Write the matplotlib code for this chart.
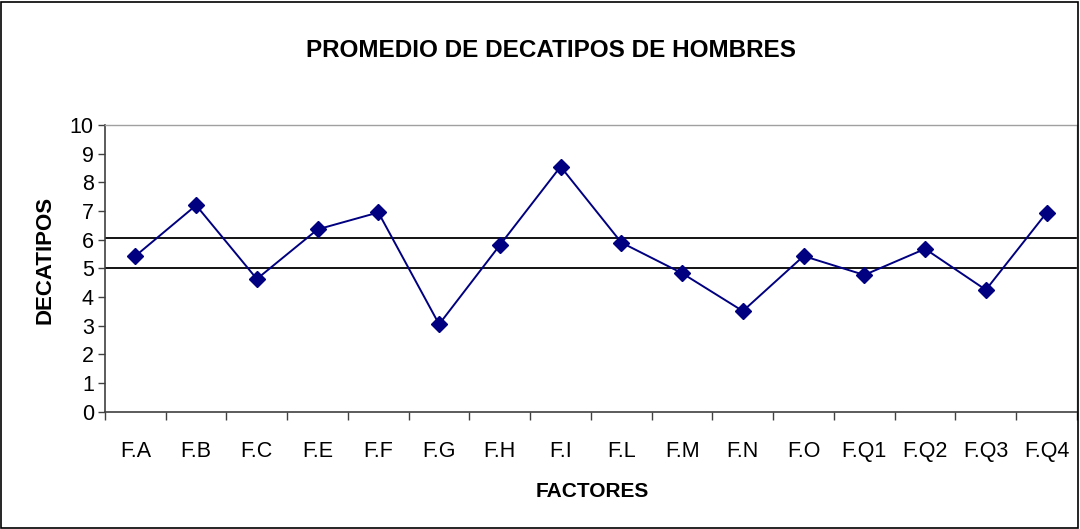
import matplotlib
matplotlib.use("Agg")
import matplotlib.pyplot as plt
from matplotlib.patches import Rectangle
import numpy as np

categories = ["F.A", "F.B", "F.C", "F.E", "F.F", "F.G", "F.H", "F.I",
              "F.L", "F.M", "F.N", "F.O", "F.Q1", "F.Q2", "F.Q3", "F.Q4"]
values = [5.43, 7.2, 4.63, 6.36, 6.95, 3.05, 5.81, 8.55,
          5.9, 4.83, 3.51, 5.43, 4.77, 5.68, 4.25, 6.94]
ref_lines = [6.05, 5.0]
y_ticks = list(range(0, 11))

plt.rcParams['font.family'] = ['Liberation Sans', 'DejaVu Sans']

fig = plt.figure(figsize=(10.8, 5.29), dpi=100)
fig.patches.append(Rectangle((0.001, 0.002), 0.997, 0.995, transform=fig.transFigure,
                             fill=False, edgecolor='black', linewidth=1.2))
ax = fig.add_axes([0.0972, 0.2217, 0.9, 0.542])

x = np.arange(len(categories))
for v in ref_lines:
    ax.axhline(v, color='black', linewidth=1.3, zorder=2)
ax.plot(x, values, color='#000080', linewidth=1.4, marker='D', markersize=8.5,
        markerfacecolor='#000080', markeredgecolor='#000080', zorder=3)

ax.set_xlim(-0.5, len(categories) - 0.5)
ax.set_ylim(0, 10)
ax.set_yticks(y_ticks)
ax.set_yticklabels([str(t) for t in y_ticks], fontsize=15.5)
ax.set_xticks(x)
ax.set_xticklabels(categories, fontsize=15.5)
ax.set_xticks(np.arange(-0.5, len(categories), 1), minor=True)
ax.tick_params(axis='x', which='major', length=0, pad=21)
ax.tick_params(axis='x', which='minor', length=6, width=1, color='#404040', direction='out')
ax.tick_params(axis='y', length=5, width=1, color='#404040', direction='out', pad=3)

for side in ['left', 'bottom']:
    ax.spines[side].set_color('#404040')
    ax.spines[side].set_linewidth(1.2)
for side in ['top', 'right']:
    ax.spines[side].set_color('#a0a0a0')
    ax.spines[side].set_linewidth(1.0)

fig.text(0.510, 0.905, "PROMEDIO DE DECATIPOS DE HOMBRES", ha='center', va='center',
         fontsize=17.5, fontweight='bold')
fig.text(0.548, 0.071, "FACTORES", ha='center', va='center', fontsize=15, fontweight='bold')
fig.text(0.042, 0.508, "DECATIPOS", ha='center', va='center', fontsize=16,
         fontweight='bold', rotation=90)

fig.savefig("out.png", dpi=100)
